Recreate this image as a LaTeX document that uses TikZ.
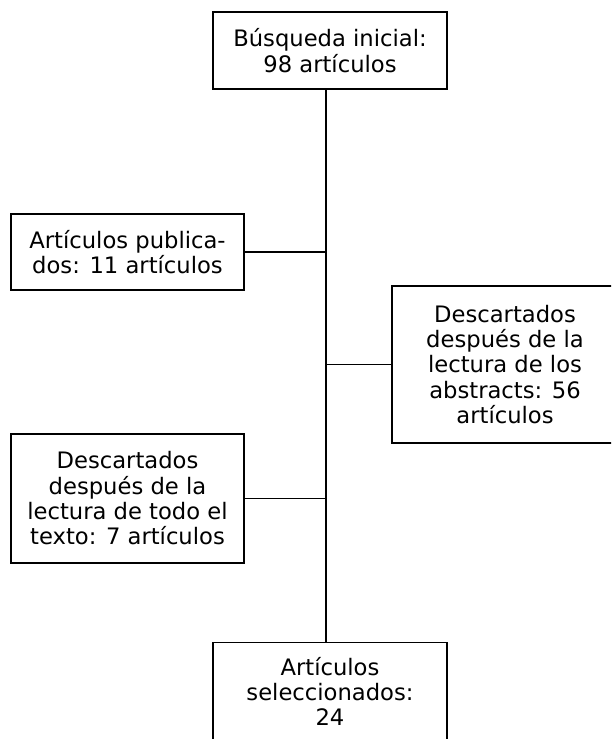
\documentclass[tikz,border=0pt]{standalone}
\usepackage{fontspec}
\setmainfont{DejaVu Sans}

\begin{document}
\begin{tikzpicture}[x=0.75pt,y=-0.75pt,
  caja/.style={draw,line width=0.8pt,align=center,inner sep=0pt,
    font=\fontsize{17}{19}\selectfont},
  linea/.style={line width=0.8pt}]
\useasboundingbox (0,0) rectangle (611,739);
\clip (0,0) rectangle (611,739);
\node [caja,minimum width=175.5pt,minimum height=57.75pt] (busqueda) at (330,50.5) {Búsqueda inicial:\\98 artículos};
\node [caja,minimum width=174.75pt,minimum height=57pt] (publicados) at (127.5,252) {Artículos publica-\\dos: 11 artículos};
\node [caja,minimum width=169.5pt,minimum height=117.75pt] (abstracts) at (505,364.5) {Descartados\\después de la\\lectura de los\\abstracts: 56\\artículos};
\node [caja,minimum width=174.75pt,minimum height=96.75pt] (texto) at (127.5,498.5) {Descartados\\después de la\\lectura de todo el\\texto: 7 artículos};
\node [caja,anchor=north,minimum width=175.5pt,minimum height=73.5pt] (seleccion) at (330,642) {Artículos\\seleccionados:\\24};
% eje vertical y ramas
\coordinate (eje) at (326,0);
\draw [linea] (busqueda.south -| eje) -- (seleccion.north -| eje);
\draw [linea] (publicados.east) -- (publicados.east -| eje);
\draw [linea] (abstracts.west) -- (abstracts.west -| eje);
\draw [linea] (texto.east) -- (texto.east -| eje);
\end{tikzpicture}
\end{document}
